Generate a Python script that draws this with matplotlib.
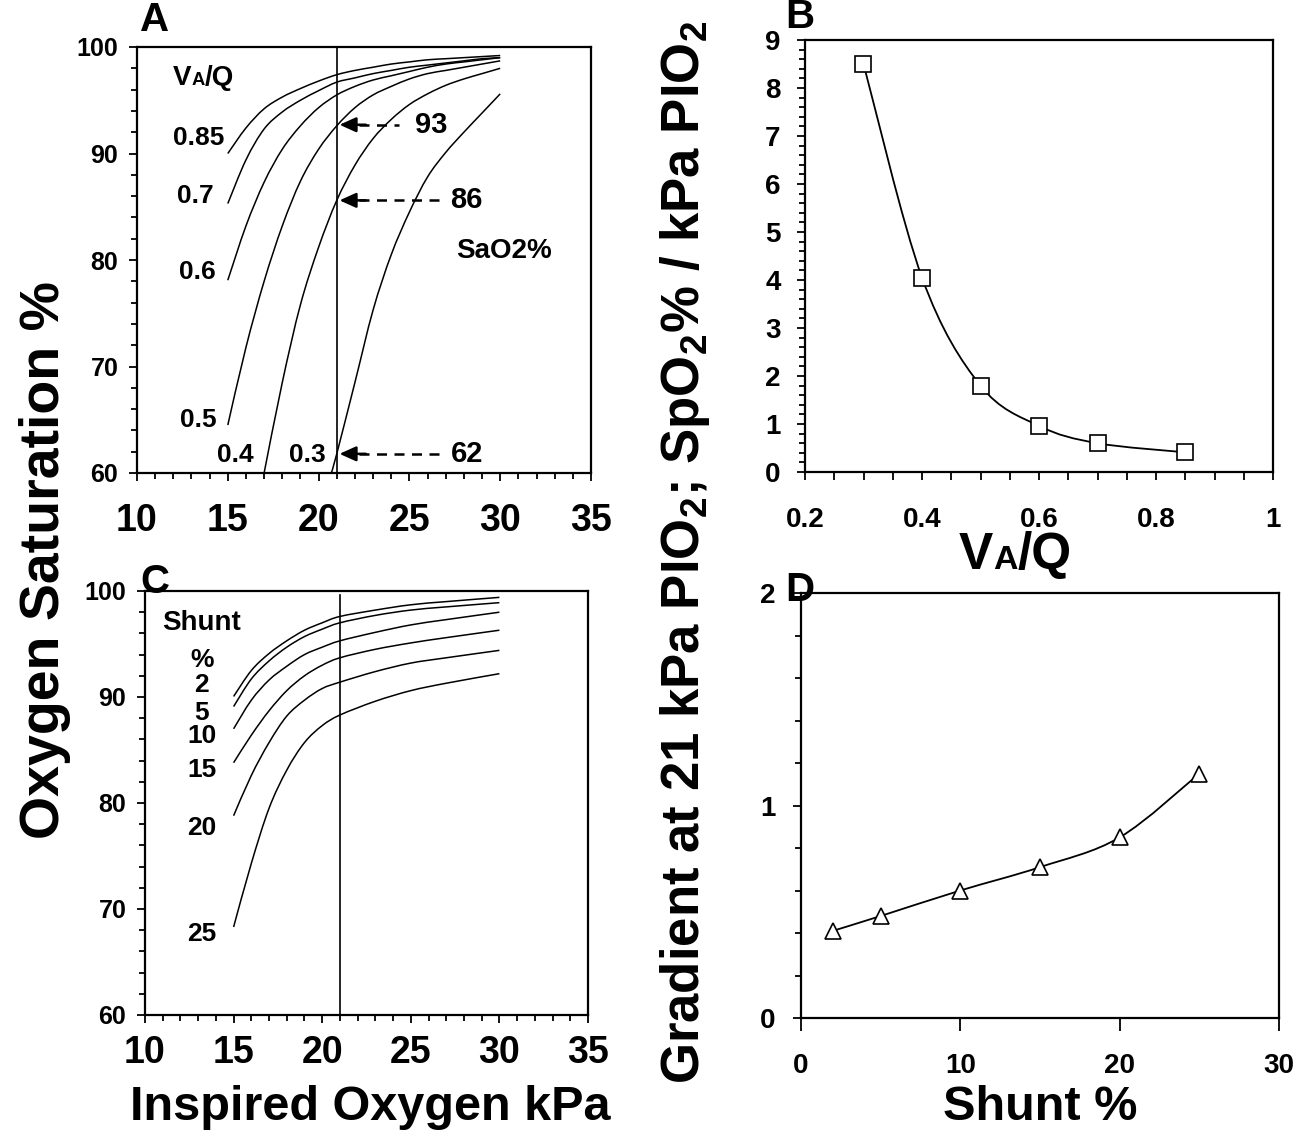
import matplotlib
matplotlib.use("Agg")
import matplotlib.pyplot as plt
from matplotlib import font_manager
from matplotlib.path import Path
from matplotlib.patches import PathPatch
from matplotlib.offsetbox import TextArea, HPacker, AnnotationBbox
from matplotlib.ticker import MultipleLocator

# ---- panel A: SaO2 vs inspired O2 for several VA/Q ----
VAQ_LABELS = ["0.85", "0.7", "0.6", "0.5", "0.4", "0.3"]
X_FULL = [15, 16, 17, 18, 19, 20, 21, 22, 23, 24, 25, 26, 27, 28, 29, 30]
SAT_085 = [90.0, 92.4, 94.2, 95.3, 96.1, 96.8, 97.4, 97.8, 98.1, 98.4, 98.6, 98.8, 98.9, 99.0, 99.1, 99.2]
SAT_07 = [85.3, 89.4, 92.3, 93.9, 95.0, 95.9, 96.7, 97.1, 97.5, 97.8, 98.1, 98.3, 98.5, 98.7, 98.9, 99.0]
SAT_06 = [78.1, 83.2, 87.3, 90.4, 92.6, 94.3, 95.5, 96.3, 96.9, 97.3, 97.7, 98.1, 98.4, 98.6, 98.8, 99.0]
SAT_05 = [64.5, 71.8, 78.0, 83.2, 87.4, 90.4, 92.6, 94.3, 95.5, 96.3, 97.0, 97.5, 97.8, 98.1, 98.4, 98.7]
X_04 = [17, 18, 19, 20, 21, 22, 23, 24, 25, 26, 27, 28, 29, 30]
SAT_04 = [60.0, 68.5, 75.8, 81.2, 85.6, 88.9, 91.4, 93.2, 94.6, 95.6, 96.4, 97.0, 97.5, 98.0]
X_03 = [20.7, 21, 22, 23, 24, 25, 26, 27, 28, 29, 30]
SAT_03 = [60.0, 61.8, 68.5, 75.3, 80.5, 84.5, 87.8, 90.1, 92.0, 93.8, 95.6]
VAQ_LABEL_POS = [(13.4, 91.5), (13.2, 86.0), (13.35, 78.9), (13.35, 65.0), (15.4, 61.7), (19.4, 61.7)]
SAO2_READOUTS = [93, 86, 62]
READOUT_Y = [92.7, 85.6, 61.8]

# ---- panel B: gradient vs VA/Q ----
B_VAQ = [0.3, 0.4, 0.5, 0.6, 0.7, 0.85]
B_GRAD = [8.5, 4.05, 1.8, 0.96, 0.6, 0.41]

# ---- panel C: SaO2 vs inspired O2 for several shunts ----
SHUNT_LABELS = ["2", "5", "10", "15", "20", "25"]
X_SHUNT = [15, 16, 17, 18, 19, 20, 21, 23, 25, 27, 30]
SAT_SHUNT = [
    [90.05, 92.5, 94.1, 95.3, 96.3, 97.0, 97.6, 98.2, 98.7, 99.0, 99.4],
    [89.1, 91.7, 93.4, 94.7, 95.7, 96.4, 97.0, 97.7, 98.2, 98.5, 98.9],
    [87.0, 89.7, 91.6, 92.9, 94.0, 94.7, 95.3, 96.1, 96.8, 97.3, 98.0],
    [83.8, 86.4, 88.7, 90.6, 92.0, 93.0, 93.7, 94.5, 95.1, 95.6, 96.3],
    [78.8, 82.6, 85.7, 88.2, 89.7, 90.8, 91.4, 92.4, 93.2, 93.7, 94.4],
    [68.3, 74.3, 79.5, 83.1, 85.7, 87.3, 88.3, 89.6, 90.6, 91.3, 92.2],
]
SHUNT_LABEL_Y = [91.1, 88.5, 86.3, 83.1, 77.6, 67.6]

# ---- panel D: gradient vs shunt ----
D_SHUNT = [2, 5, 10, 15, 20, 25]
D_GRAD = [0.41, 0.48, 0.60, 0.71, 0.85, 1.15]

names = {f.name for f in font_manager.fontManager.ttflist}
SANS = "Liberation Sans"
NARROW = "Liberation Sans Narrow" if "Liberation Sans Narrow" in names else SANS

plt.rcParams["font.family"] = [SANS, "DejaVu Sans"]
plt.rcParams["font.weight"] = "bold"
plt.rcParams["mathtext.fontset"] = "custom"
plt.rcParams["mathtext.rm"] = "Liberation Sans:bold"
plt.rcParams["mathtext.bf"] = "Liberation Sans:bold"

W, H = 1301, 1144


def fig_rect(x0, y0, x1, y1):
    return [x0 / W, 1 - y1 / H, (x1 - x0) / W, (y1 - y0) / H]


def smooth(ax, xs, ys, lw=1.1):
    # Excel-like smoothed line: Catmull-Rom converted to cubic Bezier segments
    pts = list(zip(xs, ys))
    n = len(pts)
    verts = [pts[0]]
    codes = [Path.MOVETO]
    for i in range(n - 1):
        p0 = pts[max(i - 1, 0)]
        p1 = pts[i]
        p2 = pts[i + 1]
        p3 = pts[min(i + 2, n - 1)]
        c1 = (p1[0] + (p2[0] - p0[0]) / 6, p1[1] + (p2[1] - p0[1]) / 6)
        c2 = (p2[0] - (p3[0] - p1[0]) / 6, p2[1] - (p3[1] - p1[1]) / 6)
        verts += [c1, c2, p2]
        codes += [Path.CURVE4] * 3
    ax.add_patch(PathPatch(Path(verts, codes), fill=False, lw=lw, ec="black"))


def style(ax, xticks, xlabels, yticks, ylabels, xminor, yminor, xsize, ysize, xpad, ypad):
    for s in ax.spines.values():
        s.set_linewidth(1.6)
    ax.set_xticks(xticks)
    ax.set_xticklabels(xlabels, fontfamily=NARROW, fontsize=xsize, fontweight="bold")
    ax.set_yticks(yticks)
    ax.set_yticklabels(ylabels, fontfamily=NARROW, fontsize=ysize, fontweight="bold")
    if xminor:
        ax.xaxis.set_minor_locator(MultipleLocator(xminor))
    if yminor:
        ax.yaxis.set_minor_locator(MultipleLocator(yminor))
    ax.tick_params(axis="both", which="major", direction="out", length=5.5, width=1.3)
    ax.tick_params(axis="both", which="minor", direction="out", length=4, width=1.3)
    ax.tick_params(axis="x", which="major", pad=xpad)
    ax.tick_params(axis="y", which="major", pad=ypad)


def vaq_label(container, xy, coords, size):
    tp = dict(fontsize=size, fontweight="bold", fontfamily=SANS)
    parts = [
        TextArea("V", textprops=tp),
        TextArea("A", textprops=dict(tp, fontsize=size * 0.66)),
        TextArea("/Q", textprops=tp),
    ]
    box = HPacker(children=parts, align="baseline", pad=0, sep=0)
    ab = AnnotationBbox(box, xy, xycoords=coords, frameon=False, box_alignment=(0.5, 0.5))
    container.add_artist(ab)


fig = plt.figure(figsize=(W / 100, H / 100), dpi=100)

# ---------------- A ----------------
axA = fig.add_axes(fig_rect(137, 47, 591, 473))
axA.set_xlim(10, 35)
axA.set_ylim(60, 100)
style(axA, [10, 15, 20, 25, 30, 35], ["10", "15", "20", "25", "30", "35"],
      [60, 70, 80, 90, 100], ["60", "70", "80", "90", "100"], 1, 2, 27, 18, 16, 8)
axA.axvline(21, color="black", lw=1.2)
curves_a = [(X_FULL, SAT_085), (X_FULL, SAT_07), (X_FULL, SAT_06), (X_FULL, SAT_05),
            (X_04, SAT_04), (X_03, SAT_03)]
for (xs, ys), lab, pos in zip(curves_a, VAQ_LABELS, VAQ_LABEL_POS):
    smooth(axA, xs, ys)
    axA.text(pos[0], pos[1], lab, fontsize=19, ha="center", va="center")
vaq_label(axA, (13.65, 97.1), "data", 20)
tails = [24.4, 26.8, 26.8]
text_x = [26.2, 28.15, 28.15]
for val, y, tx, tl in zip(SAO2_READOUTS, READOUT_Y, text_x, tails):
    axA.plot([22.2, tl], [y, y], ls=(0, (4, 3)), color="black", lw=1.8)
    axA.annotate("", xy=(21.15, y), xytext=(22.6, y),
                 arrowprops=dict(arrowstyle="-|>,head_length=1.0,head_width=0.45",
                                 color="black", lw=1.8, shrinkA=0, shrinkB=0))
    axA.text(tx, y, str(val), fontsize=21, ha="center", va="center")
axA.text(30.2, 80.8, "SaO2%", fontsize=20, ha="center", va="center")

# ---------------- B ----------------
axB = fig.add_axes(fig_rect(805, 40, 1273, 472))
axB.set_xlim(0.2, 1.0)
axB.set_ylim(0, 9)
style(axB, [0.2, 0.4, 0.6, 0.8, 1.0], ["0.2", "0.4", "0.6", "0.8", "1"],
      list(range(10)), [str(i) for i in range(10)], 0.05, 0.2, 20, 20, 19, 12)
axB.tick_params(axis="x", which="both", length=6)
smooth(axB, B_VAQ, B_GRAD, lw=1.3)
axB.plot(B_VAQ, B_GRAD, ls="none", marker="s", ms=11, mfc="white", mec="black", mew=1.2)

# ---------------- C ----------------
axC = fig.add_axes(fig_rect(145, 591, 588, 1015))
axC.set_xlim(10, 35)
axC.set_ylim(60, 100)
style(axC, [10, 15, 20, 25, 30, 35], ["10", "15", "20", "25", "30", "35"],
      [60, 70, 80, 90, 100], ["60", "70", "80", "90", "100"], 1, 2, 27, 18, 9, 8)
axC.plot([21, 21], [60, 99.6], color="black", lw=1.2)
for ys in SAT_SHUNT:
    smooth(axC, X_SHUNT, ys)
axC.text(13.2, 97.0, "Shunt", fontsize=20, ha="center", va="center")
axC.text(13.2, 93.5, "%", fontsize=19, ha="center", va="center")
for lab, y in zip(SHUNT_LABELS, SHUNT_LABEL_Y):
    axC.text(13.2, y, lab, fontsize=19, ha="center", va="center")

# ---------------- D ----------------
axD = fig.add_axes(fig_rect(801, 593, 1279, 1018))
axD.set_xlim(0, 30)
axD.set_ylim(0, 2)
style(axD, [0, 10, 20, 30], ["0", "10", "20", "30"], [0, 1, 2], ["0", "1", "2"],
      None, 0.2, 20, 20, 16, 13)
axD.tick_params(axis="x", which="major", length=9)
smooth(axD, D_SHUNT, D_GRAD, lw=1.3)
axD.plot(D_SHUNT, D_GRAD, ls="none", marker="^", ms=12, mfc="white", mec="black", mew=1.2)

# ---------------- labels ----------------
for letter, (px, py) in zip("ABCD", [(155, 20), (800, 17), (155, 582), (800, 590)]):
    fig.text(px / W, 1 - py / H, letter, fontsize=29, ha="center", va="center")

fig.text(45 / W, 1 - 560 / H, "Oxygen Saturation %", rotation=90, fontsize=40,
         ha="center", va="center")
fig.text(685 / W, 1 - 552 / H,
         r"Gradient at 21 kPa PIO$_\mathbf{2}$; SpO$_\mathbf{2}$% / kPa PIO$_\mathbf{2}$",
         rotation=90, fontsize=38, ha="center", va="center")
fig.text(370 / W, 1 - 1107 / H, "Inspired Oxygen kPa", fontsize=35, ha="center", va="center")
fig.text(1040 / W, 1 - 1107 / H, "Shunt %", fontsize=35, ha="center", va="center")
vaq_label(fig, (1015 / W, 1 - 555 / H), "figure fraction", 37)

fig.savefig("out.png", dpi=100)
